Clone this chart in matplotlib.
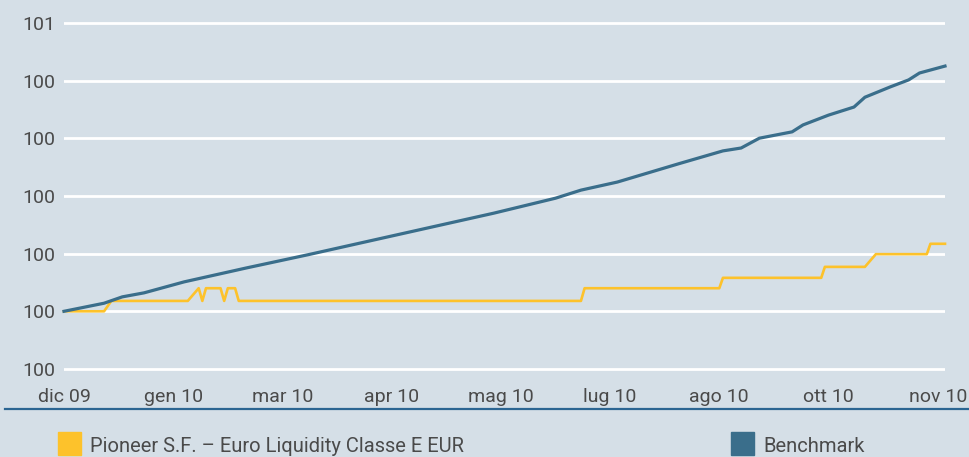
import matplotlib.pyplot as plt
import matplotlib.patches as mpatches
from matplotlib.lines import Line2D

plt.rcParams['font.family'] = ['Roboto', 'DejaVu Sans']

# x = trading-day index, one tick label every 30 days
tick_pos = [0, 30, 60, 90, 120, 150, 180, 210, 240]
tick_labels = ["dic 09", "gen 10", "mar 10", "apr 10", "mag 10",
               "lug 10", "ago 10", "ott 10", "nov 10"]

y_ticks = [100.0, 100.1, 100.2, 100.3, 100.4, 100.5, 100.6]
y_tick_labels = ["100", "100", "100", "100", "100", "100", "101"]

# fund (step line, vertices)
fund_x = [0, 11, 13, 34, 37, 38, 39, 43, 44, 45, 47, 48,
          142, 143, 180, 181, 208, 209, 220, 223, 237, 238, 242]
fund_y = [100.100, 100.100, 100.118, 100.118, 100.140, 100.118, 100.140,
          100.140, 100.118, 100.140, 100.140, 100.118,
          100.118, 100.140, 100.140, 100.158, 100.158, 100.177,
          100.177, 100.199, 100.199, 100.217, 100.217]

bench_x = [0, 11, 16, 22, 33, 50, 67, 84, 101, 118, 135, 142, 152,
           169, 181, 186, 191, 200, 203, 210, 217, 220, 227, 232, 235, 242]
bench_y = [100.100, 100.114, 100.125, 100.132, 100.151, 100.175, 100.198,
           100.222, 100.246, 100.270, 100.296, 100.310, 100.324, 100.356,
           100.378, 100.383, 100.400, 100.411, 100.423, 100.440, 100.454,
           100.471, 100.489, 100.501, 100.513, 100.525]

bg = "#d5dfe7"
yellow = "#fdc22b"
blue = "#3a6e8b"
txt = "#4a4a4a"

fig = plt.figure(figsize=(9.7, 4.57), dpi=100, facecolor=bg)
ax = fig.add_axes([64 / 970, 1 - 375 / 457, (945 - 64) / 970, 360 / 457])
ax.set_facecolor(bg)

ax.plot(fund_x, fund_y, color=yellow, lw=1.9, clip_on=False, zorder=3)
ax.plot(bench_x, bench_y, color=blue, lw=2.3, clip_on=False, zorder=4)

ax.set_xlim(0, 242)
ax.set_ylim(100 - 6 / 577, 100 + 354 / 577)
ax.set_xticks(tick_pos)
ax.set_xticklabels(tick_labels)
ax.set_yticks(y_ticks)
ax.set_yticklabels(y_tick_labels)
ax.tick_params(length=0, labelsize=14, colors=txt)
ax.tick_params(axis="x", pad=9)
ax.tick_params(axis="y", pad=6)
ax.grid(axis="y", color="white", lw=2)
ax.set_axisbelow(True)
for s in ax.spines.values():
    s.set_visible(False)

# separator line under the axis
fig.add_artist(Line2D([5 / 970, 1], [1 - 409 / 457, 1 - 409 / 457],
                      color="#2b6592", lw=1.6))

# legend
for x0, col, label in [(58, yellow, "Pioneer S.F. \u2013 Euro Liquidity Classe E EUR"),
                       (731, blue, "Benchmark")]:
    fig.add_artist(mpatches.Rectangle((x0 / 970, 1 - 455 / 457), 23 / 970, 23 / 457,
                                      color=col, transform=fig.transFigure))
    fig.text((x0 + 32) / 970, 1 - 446 / 457, label, fontsize=14.5, color=txt, va="center")

fig.savefig("out.png", dpi=100, facecolor=bg)
